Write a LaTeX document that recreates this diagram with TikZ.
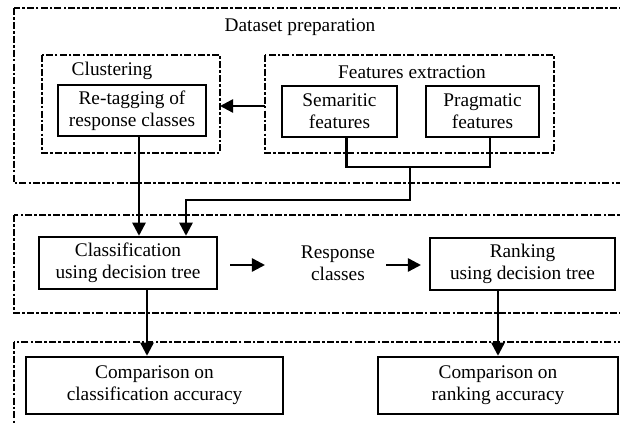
\documentclass[tikz,border=0pt]{standalone}
\usepackage{fontspec}
\setmainfont{Liberation Serif}
\usetikzlibrary{calc,arrows.meta}
\def\drawgroup{\draw[line width=1.2pt, dash pattern=on 4pt off 1.2pt on 1.5pt off 1.2pt]}
\def\drawwire{\draw[line width=1.4pt]}
\def\drawflow{\draw[line width=1.4pt,-{Triangle[width=7.5pt,length=7.5pt]}]}
\def\stepnode{\node[draw=black,line width=1.4pt,align=center,inner sep=0pt]}
\def\labnode{\node[align=center,inner sep=0pt]}

\begin{document}
\begin{tikzpicture}[x=0.02cm,y=-0.02cm,font=\fontsize{11}{12.5}\selectfont]
\clip (0,0) rectangle (620,425);
\useasboundingbox (0,0) rectangle (620,425);

% ---------- dashed stages (run off the right edge)
\drawgroup (14,8) rectangle (640,183);    % dataset preparation
\drawgroup (14,215) rectangle (640,313);  % classification / ranking
\drawgroup (14,342) rectangle (640,445);  % evaluation
\labnode (prep) at (300,27) {Dataset preparation};

% ---------- clustering group
\drawgroup (42,55) rectangle (220,153);
\labnode (clus) at (112,71) {Clustering};
\stepnode[minimum width=2.96cm,minimum height=1.02cm] (retag) at (132,110.5) {Re-tagging of\\response classes};

% ---------- features group
\drawgroup (265,55) rectangle (554,153);
\labnode (feat) at (412,72) {Features extraction};
\stepnode[minimum width=2.3cm,minimum height=1.02cm] (sem) at (339.5,111.5) {Semaritic\\features};
\stepnode[minimum width=2.26cm,minimum height=1.02cm] (prag) at (482.5,111.5) {Pragmatic\\features};

\coordinate (featL) at (265,106);
\coordinate (clusR) at (220,106);
\drawflow (featL) to (clusR);

% merge of the two feature kinds
\coordinate (semB) at ($ (sem.south) + (7,0) $);
\coordinate (pragB) at ($ (prag.south) + (7.5,0) $);
\coordinate (join) at (410,167);
\drawwire (semB) |- (join) -| (pragB);

% ---------- middle stage
\stepnode[minimum width=3.56cm,minimum height=1.04cm] (clas) at (128,263) {Classification\\using decision tree};
\labnode (resp) at (338,263) {Response\\classes};
\stepnode[minimum width=3.7cm,minimum height=1.04cm] (rank) at (522.5,264) {Ranking\\using decision tree};

\coordinate (bend) at (410,200);
\drawflow (join) -- (bend) -| ($ (clas.north) + (58,0) $);
\drawflow (retag.south -| 139,0) -- (clas.north -| 139,0);

\coordinate (a1) at (230,265);
\coordinate (a2) at (265,265);
\coordinate (b1) at (386,265);
\coordinate (b2) at (421,265);
\drawflow (a1) to (a2);
\drawflow (b1) to (b2);

% ---------- evaluation
\stepnode[minimum width=5.14cm,minimum height=1.14cm] (compc) at (154.5,385.5) {Comparison on\\classification accuracy};
\stepnode[minimum width=4.8cm,minimum height=1.14cm] (compr) at (498,385.5) {Comparison on\\ranking accuracy};

\drawflow (clas.south -| 147,0) -- (compc.north -| 147,0);
\drawflow (rank.south -| compr.north) -- (compr.north);
\end{tikzpicture}
\end{document}
